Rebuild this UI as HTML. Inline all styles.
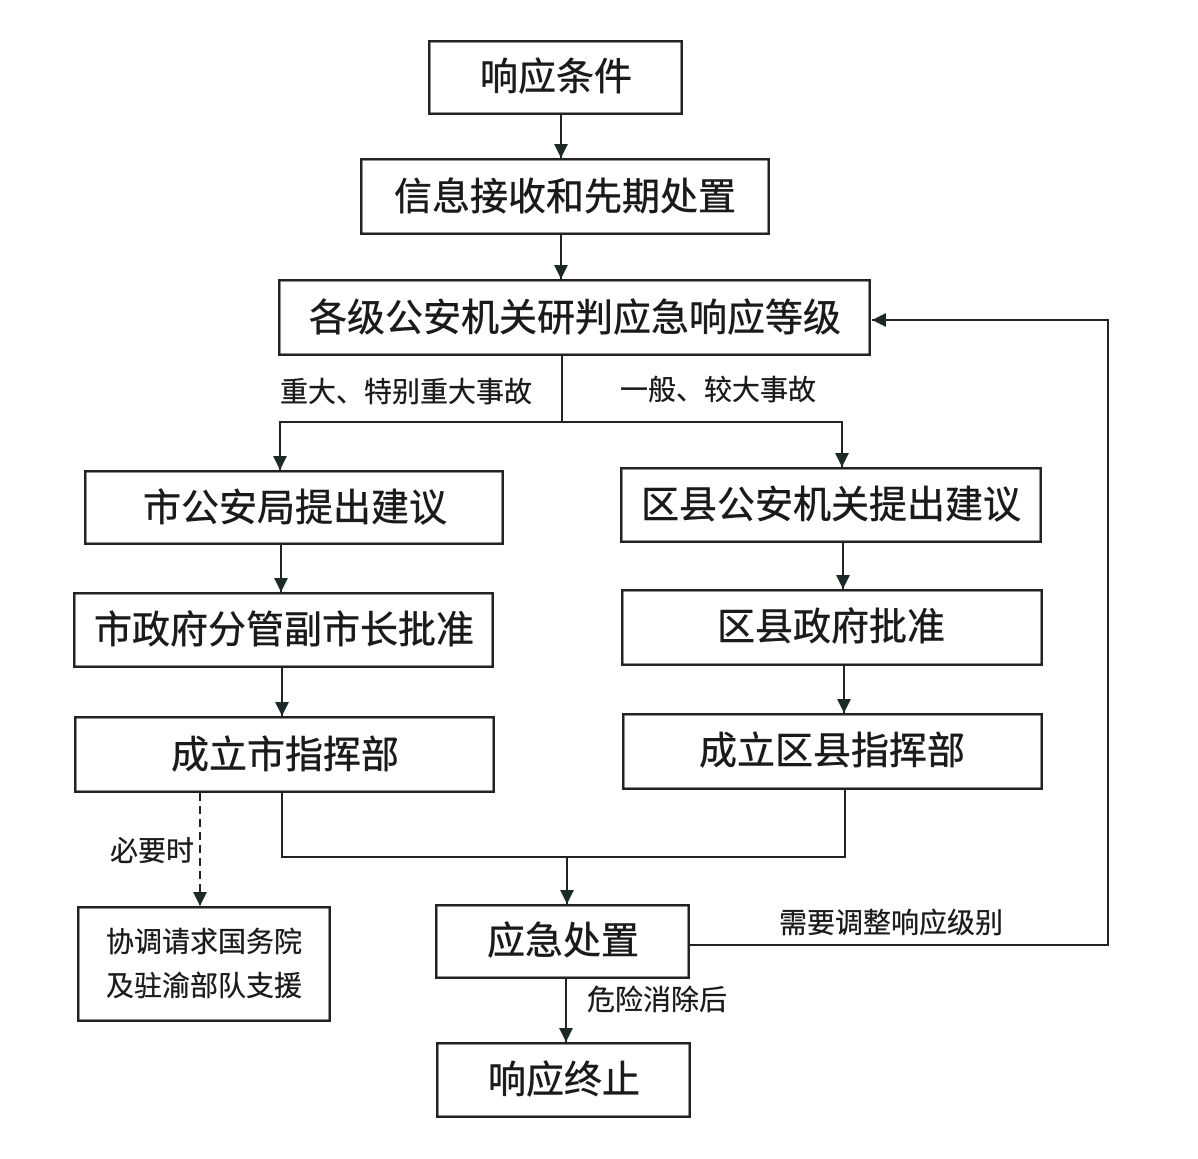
<!DOCTYPE html>
<html>
<head>
<meta charset="utf-8">
<style>
  html,body{margin:0;padding:0;background:#fff;}
  svg{display:block;}
  text{font-family:"Liberation Sans","Noto Sans CJK SC","WenQuanYi Zen Hei",sans-serif;fill:#1a1a1a;}
  .big{font-size:38px;stroke:#1a1a1a;stroke-width:0.5px;}
  .sm{font-size:28px;stroke:#1a1a1a;stroke-width:0.3px;}
</style>
</head>
<body>
<svg width="1198" height="1159" viewBox="0 0 1198 1159" xmlns="http://www.w3.org/2000/svg">
  <defs>
    <marker id="ah" markerWidth="14" markerHeight="14" refX="14" refY="7" orient="auto" markerUnits="userSpaceOnUse">
      <path d="M0,0 L14,7 L0,14 Z" fill="#1b2a28"/>
    </marker>
  </defs>

  <g fill="none" stroke="#222" stroke-width="2.5">
    <rect x="429.25" y="41.25" width="252.5" height="72.5"/>
    <rect x="361.25" y="159.25" width="407.5" height="74.5"/>
    <rect x="279.25" y="280.25" width="590.5" height="74.5"/>
    <rect x="85.25" y="471.25" width="417.5" height="72.5"/>
    <rect x="621.25" y="468.25" width="419.5" height="73.5"/>
    <rect x="74.25" y="593.25" width="418.5" height="73.5"/>
    <rect x="622.25" y="590.25" width="419.5" height="74.5"/>
    <rect x="75.25" y="717.25" width="418.5" height="74.5"/>
    <rect x="623.25" y="714.25" width="418.5" height="74.5"/>
    <rect x="78.25" y="907.25" width="251.5" height="113.5"/>
    <rect x="436.25" y="905.25" width="252.5" height="72.5"/>
    <rect x="437.25" y="1043.25" width="252.5" height="73.5"/>
  </g>

  <g fill="none" stroke="#222" stroke-width="2">
    <line x1="561" y1="115" x2="561" y2="158" marker-end="url(#ah)"/>
    <line x1="561" y1="235" x2="561" y2="279" marker-end="url(#ah)"/>
    <polyline points="562,356 562,422"/>
    <polyline points="280,422 842,422"/>
    <line x1="280" y1="421" x2="280" y2="470" marker-end="url(#ah)"/>
    <line x1="842" y1="421" x2="842" y2="467" marker-end="url(#ah)"/>
    <line x1="281" y1="545" x2="281" y2="592" marker-end="url(#ah)"/>
    <line x1="843" y1="543" x2="843" y2="589" marker-end="url(#ah)"/>
    <line x1="282" y1="668" x2="282" y2="716" marker-end="url(#ah)"/>
    <line x1="844" y1="666" x2="844" y2="713" marker-end="url(#ah)"/>
    <polyline points="282,793 282,857 845,857 845,790"/>
    <line x1="567" y1="857" x2="567" y2="904" marker-end="url(#ah)"/>
    <line x1="200" y1="793" x2="200" y2="906" stroke-dasharray="8,5" marker-end="url(#ah)"/>
    <line x1="566" y1="979" x2="566" y2="1042" marker-end="url(#ah)"/>
    <polyline points="690,945 1108,945 1108,320 886,320"/>
    <line x1="890" y1="320" x2="872" y2="320" marker-end="url(#ah)"/>
  </g>

  <g class="big" text-anchor="middle" dominant-baseline="central">
    <text x="556" y="78">响应条件</text>
    <text x="565" y="198">信息接收和先期处置</text>
    <text x="575" y="319">各级公安机关研判应急响应等级</text>
    <text x="295" y="509">市公安局提出建议</text>
    <text x="831" y="506">区县公安机关提出建议</text>
    <text x="284" y="631">市政府分管副市长批准</text>
    <text x="831" y="628">区县政府批准</text>
    <text x="285" y="756">成立市指挥部</text>
    <text x="832" y="752">成立区县指挥部</text>
    <text x="563" y="942">应急处置</text>
    <text x="564" y="1081">响应终止</text>
  </g>

  <g class="sm" dominant-baseline="central">
    <text x="280" y="392">重大、特别重大事故</text>
    <text x="620" y="390">一般、较大事故</text>
    <text x="110" y="851">必要时</text>
    <text x="779" y="923">需要调整响应级别</text>
    <text x="587" y="1000">危险消除后</text>
    <text x="204" y="942" text-anchor="middle">协调请求国务院</text>
    <text x="204" y="986" text-anchor="middle">及驻渝部队支援</text>
  </g>
</svg>
</body>
</html>
